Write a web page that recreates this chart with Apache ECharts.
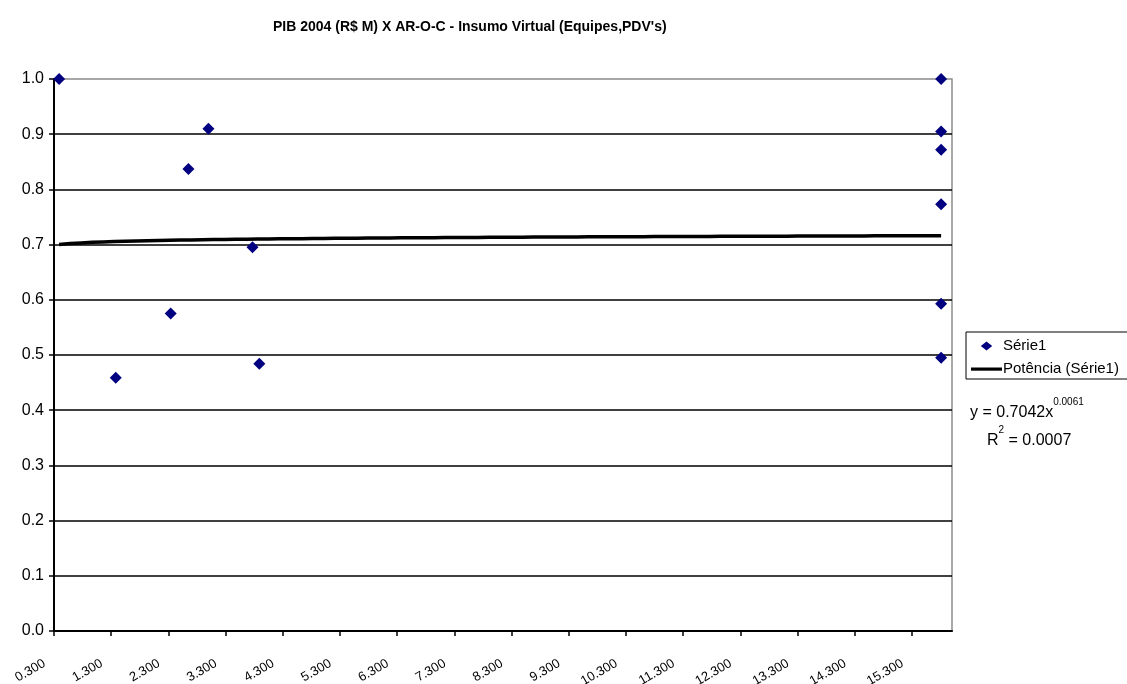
<!DOCTYPE html>
<html>
<head>
<meta charset="utf-8">
<title>PIB 2004 (R$ M) X AR-O-C - Insumo Virtual (Equipes,PDV's)</title>
<script src="https://cdn.jsdelivr.net/npm/echarts@6/dist/echarts.min.js"></script>
<style>
  html, body { margin: 0; padding: 0; background: #fff; }
  #chart { width: 1127px; height: 684px; }
</style>
</head>
<body>
<div id="chart"></div>
<script>
// PIB 2004 (R$ M) on x, AR-O-C virtual input efficiency on y
const pibValues = [0.39, 1.38, 2.34, 2.65, 3.00, 3.77, 3.89,
                   15.81, 15.81, 15.81, 15.81, 15.81, 15.81];
const efficiencyValues = [1.000, 0.459, 0.575, 0.837, 0.910, 0.695, 0.484,
                          1.000, 0.905, 0.872, 0.773, 0.593, 0.495];

// x-axis tick labels (0.300 .. 15.300, step 1)
const xTickLabels = ['0.300', '1.300', '2.300', '3.300', '4.300', '5.300', '6.300', '7.300',
                     '8.300', '9.300', '10.300', '11.300', '12.300', '13.300', '14.300', '15.300'];

// power trendline coefficients: y = a * x^b
const trendA = 0.7042;
const trendB = 0.0061;
const trendR2 = '0.0007';

const seriesName = 'Série1';
const trendName = 'Potência (Série1)';

const scatterData = pibValues.map((x, i) => [x, efficiencyValues[i]]);

// trendline sampled over the data's x range
const xMin = Math.min(...pibValues);
const xMax = Math.max(...pibValues);
const trendData = [];
const steps = 80;
for (let i = 0; i <= steps; i++) {
  const x = xMin + (xMax - xMin) * i / steps;
  trendData.push([x, trendA * Math.pow(x, trendB)]);
}

// legend icons sized to the full 31x11 icon box so they are not stretched:
// zero-length subpaths pin the bounding box, the filled shape sits inside it
const ICON_DIAMOND = 'path://M0,5.5L0,5.5M31,0L31,0M31,11L31,11M15.5,1L21.2,5.5L15.5,10L9.8,5.5Z';
const ICON_LINE = 'path://M0,0L0,0M31,11L31,11M0,4L31,4L31,7.2L0,7.2Z';

const FONT = '"Liberation Sans", Arial, sans-serif';
const chart = echarts.init(document.getElementById('chart'), null, { renderer: 'canvas' });

chart.setOption({
  animation: false,
  backgroundColor: '#ffffff',
  textStyle: { fontFamily: FONT, color: '#000' },
  title: {
    text: "PIB 2004 (R$ M) X AR-O-C - Insumo Virtual (Equipes,PDV's)",
    left: 273,
    top: 20,
    padding: 0,
    textStyle: { fontFamily: FONT, fontSize: 14, fontWeight: 'bold', color: '#000' }
  },
  legend: {
    orient: 'vertical',
    left: 966,
    top: 332,
    padding: [6, 60, 2, 5],
    itemGap: 7,
    itemWidth: 31,
    itemHeight: 11,
    borderColor: '#000',
    borderWidth: 1,
    backgroundColor: '#fff',
    selectedMode: false,
    textStyle: { fontFamily: FONT, fontSize: 15, lineHeight: 16, color: '#000', padding: [0, 0, 0, -4] },
    data: [
      { name: seriesName, icon: ICON_DIAMOND, itemStyle: { color: '#000080' } },
      { name: trendName, icon: ICON_LINE, itemStyle: { color: '#000' } }
    ]
  },
  grid: {
    left: 54,
    right: 175,
    top: 79,
    bottom: 53,
    show: true,
    borderColor: '#8c8c8c',
    borderWidth: 1.5,
    backgroundColor: '#fff',
    outerBoundsMode: 'none'
  },
  xAxis: {
    type: 'value',
    min: 0.3,
    max: 16.0,
    axisLine: { show: true, lineStyle: { color: '#000', width: 2 } },
    axisTick: {
      show: true, inside: false, length: 5,
      customValues: xTickLabels.map(Number),
      lineStyle: { color: '#000', width: 1.5 }
    },
    axisLabel: {
      customValues: xTickLabels.map(Number),
      formatter: v => v.toFixed(3),
      rotate: 30,
      margin: 26,
      padding: [0, 11, 0, 0],
      fontFamily: FONT,
      fontSize: 13,
      color: '#000'
    },
    splitLine: { show: false }
  },
  yAxis: {
    type: 'value',
    min: 0,
    max: 1,
    interval: 0.1,
    axisLine: { show: true, lineStyle: { color: '#000', width: 2 } },
    axisTick: { show: true, inside: false, length: 5, lineStyle: { color: '#000', width: 1.5 } },
    axisLabel: {
      formatter: v => v.toFixed(1),
      margin: 10,
      fontFamily: FONT,
      fontSize: 16,
      color: '#000'
    },
    splitLine: {
      show: true,
      showMinLine: false,
      showMaxLine: false,
      lineStyle: { color: '#000', width: 1.5 }
    }
  },
  series: [
    {
      name: seriesName,
      type: 'scatter',
      data: scatterData,
      symbol: 'diamond',
      symbolSize: 12,
      itemStyle: { color: '#000080', opacity: 1 },
      z: 3
    },
    {
      name: trendName,
      type: 'line',
      data: trendData,
      symbol: 'none',
      showSymbol: false,
      lineStyle: { color: '#000', width: 3.5 },
      itemStyle: { color: '#000' },
      z: 4
    }
  ],
  graphic: [
    {
      type: 'text',
      left: 970,
      top: 397,
      style: {
        text: '{m|y = ' + trendA.toFixed(4) + 'x}{s|' + trendB.toFixed(4) + '}',
        rich: {
          m: { fontFamily: FONT, fontSize: 16, color: '#000', lineHeight: 24, verticalAlign: 'bottom' },
          s: { fontFamily: FONT, fontSize: 10, color: '#000', lineHeight: 12, verticalAlign: 'top' }
        }
      }
    },
    {
      type: 'text',
      left: 987,
      top: 425,
      style: {
        text: '{m|R}{s|2}{m| = ' + trendR2 + '}',
        rich: {
          m: { fontFamily: FONT, fontSize: 16, color: '#000', lineHeight: 24, verticalAlign: 'bottom' },
          s: { fontFamily: FONT, fontSize: 10, color: '#000', lineHeight: 12, verticalAlign: 'top' }
        }
      }
    }
  ]
});
</script>
</body>
</html>
